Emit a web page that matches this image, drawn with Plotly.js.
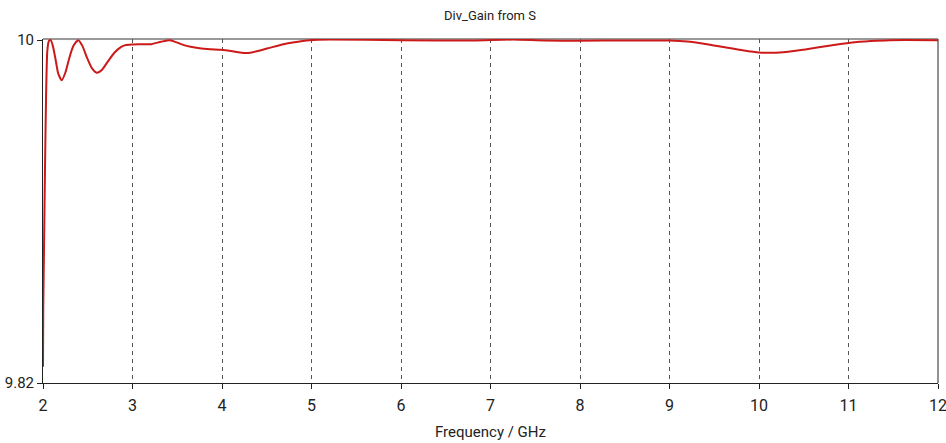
<!DOCTYPE html>
<html>
<head>
<meta charset="utf-8">
<script src="https://cdn.plot.ly/plotly-3.0.1.min.js"></script>
<style>html,body{margin:0;padding:0;background:#fff}#chart{width:946px;height:443px}</style>
</head>
<body>
<div id="chart"></div>
<script>
const freq = [2.0, 2.003, 2.011, 2.022, 2.034, 2.048, 2.065, 2.086, 2.11, 2.14, 2.17, 2.209, 2.25, 2.29, 2.34, 2.394, 2.44, 2.49, 2.55, 2.60, 2.66, 2.72, 2.80, 2.87, 2.92, 3.0, 3.1, 3.21, 3.32, 3.42, 3.55, 3.65, 3.75, 3.87, 3.98, 4.1, 4.2, 4.276, 4.4, 4.55, 4.7, 4.79, 4.9, 4.98, 5.2, 6.0, 6.8, 7.25, 7.6, 8.0, 8.5, 9.0, 9.2, 9.4, 9.6, 9.8, 10.0, 10.27, 10.5, 10.8, 11.02, 11.25, 11.46, 12.0];
const gain = [9.8285, 9.86, 9.8896, 9.9314, 9.9697, 9.9942, 9.9995, 10.0, 9.997, 9.990, 9.9825, 9.9789, 9.983, 9.990, 9.997, 10.0, 9.997, 9.991, 9.9850, 9.9829, 9.9845, 9.9885, 9.9935, 9.9963, 9.9974, 9.9977, 9.9978, 9.9979, 9.9992, 10.0, 9.9978, 9.9965, 9.9957, 9.9952, 9.9949, 9.9943, 9.9935, 9.9932, 9.9943, 9.9962, 9.9980, 9.9988, 9.9996, 10.0, 10.0003, 10.0, 9.9998, 10.0003, 9.9998, 9.9997, 9.9998, 9.9998, 9.9993, 9.9980, 9.9964, 9.9948, 9.9935, 9.9936, 9.9950, 9.9972, 9.9986, 9.9995, 10.0, 10.0];
const xTicks = [2, 3, 4, 5, 6, 7, 8, 9, 10, 11, 12];
const yTicks = [9.82, 10];
const yTickText = ["9.82", "10"];
const titleText = "Div_Gain from S";
const xTitle = "Frequency / GHz";

const font = "Roboto, 'Liberation Sans', sans-serif";

Plotly.newPlot('chart', [{
  x: freq, y: gain, type: 'scatter', mode: 'lines',
  line: {color: '#cc1a1a', width: 2, shape: 'spline', smoothing: 0.6},
  hoverinfo: 'skip'
}], {
  width: 946, height: 443,
  margin: {l: 43, r: 8, t: 39, b: 60, pad: 0},
  paper_bgcolor: '#fff', plot_bgcolor: '#fff',
  showlegend: false,
  font: {family: font, color: '#222', size: 13},
  title: {text: titleText, x: 0.518, xanchor: 'center', y: 0.965, yanchor: 'middle', font: {family: font, size: 13, color: '#222'}},
  xaxis: {
    range: [2, 12], tickvals: xTicks, ticktext: xTicks.map(String),
    ticks: 'outside', ticklen: 5, tickcolor: '#222', tickwidth: 1,
    showline: true, linecolor: '#222', linewidth: 1, mirror: false,
    showgrid: true, gridcolor: '#555', gridwidth: 1, griddash: '4px,4px',
    zeroline: false, tickfont: {size: 16, color: '#222'},
    ticklabeloverflow: 'allow', ticklabelstandoff: 3,
    title: {text: xTitle, standoff: 12, font: {size: 15, color: '#222'}}
  },
  yaxis: {
    range: [9.82, 10.0006], tickvals: yTicks, ticktext: yTickText,
    ticks: 'outside', ticklen: 5, tickcolor: '#222', tickwidth: 1,
    showline: true, linecolor: '#222', linewidth: 1, mirror: false,
    showgrid: false, zeroline: false, tickfont: {size: 15, color: '#222'},
    ticklabeloverflow: 'allow'
  },
  shapes: [
    {type: 'line', xref: 'paper', yref: 'paper', x0: 0, x1: 1, y0: 1, y1: 1, line: {color: '#777', width: 1.5}, layer: 'below'},
    {type: 'line', xref: 'paper', yref: 'paper', x0: 1, x1: 1, y0: 0, y1: 1, line: {color: '#222', width: 1}, layer: 'below'}
  ]
}, {displayModeBar: false, staticPlot: true});
</script>
</body>
</html>
